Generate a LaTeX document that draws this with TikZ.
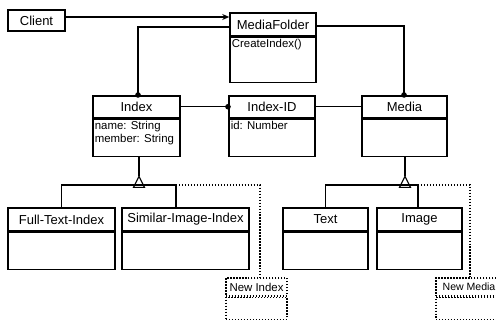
\documentclass[tikz,border=0pt]{standalone}
\usepackage{fontspec}
\setmainfont{Liberation Sans}
\usetikzlibrary{arrows.meta,positioning}
\tikzset{
  uml head/.style={draw, line width=0.9pt, inner sep=1pt, font=\fontsize{7.4}{8}\selectfont},
  uml body/.style={draw, line width=0.9pt, inner sep=0pt, anchor=north},
  uml attr/.style={anchor=north west, inner sep=1.3pt, align=left, font=\fontsize{6.5}{7.6}\selectfont},
  uml future/.style={line width=0.7pt, densely dotted},
  uml link/.style={line width=0.6pt},
  uml owns/.style={uml link, -{Circle[length=1.1mm]}, shorten >=-0.5mm},
}

\begin{document}
\begin{tikzpicture}[x=0.02cm, y=-0.02cm]
  \path[use as bounding box, clip] (0,0) rectangle (496,320);

  % Top: client and folder
  \node[uml head, minimum width=1.14cm, minimum height=0.42cm] (client) at (36.5,20.5) {Client};
  \node[uml head, minimum width=1.72cm, minimum height=0.46cm] (folder) at (273,24.5) {MediaFolder};
  \node[uml body, minimum width=1.72cm, minimum height=0.9cm] (folder-b) at (folder.south) {};
  \node[uml attr] at (folder-b.north west) {CreateIndex()};

  % Middle row
  \node[uml head, minimum width=1.74cm, minimum height=0.43cm] (index) at (136.5,106.75) {Index};
  \node[uml body, minimum width=1.74cm, minimum height=0.75cm] (index-b) at (index.south) {};
  \node[uml attr] at (index-b.north west) {name: String\\member: String};

  \node[uml head, minimum width=1.72cm, minimum height=0.43cm] (indexid) at (272,106.75) {Index-ID};
  \node[uml body, minimum width=1.72cm, minimum height=0.75cm] (indexid-b) at (indexid.south) {};
  \node[uml attr] at (indexid-b.north west) {id: Number};

  \node[uml head, minimum width=1.70cm, minimum height=0.43cm] (media) at (404.5,106.75) {Media};
  \node[uml body, minimum width=1.70cm, minimum height=0.75cm] (media-b) at (media.south) {};

  % Bottom row: subclasses
  \node[uml head, minimum width=2.14cm, minimum height=0.46cm] (fulltext) at (61.5,219.5) {Full-Text-Index};
  \node[uml body, minimum width=2.14cm, minimum height=0.74cm] (fulltext-b) at (fulltext.south) {};
  \node[uml head, minimum width=2.54cm, minimum height=0.46cm] (similar) at (185.5,219.5) {Similar-Image-Index};
  \node[uml body, minimum width=2.54cm, minimum height=0.74cm] (similar-b) at (similar.south) {};
  \node[uml head, minimum width=1.70cm, minimum height=0.46cm] (text) at (325.5,219.5) {Text};
  \node[uml body, minimum width=1.70cm, minimum height=0.74cm] (text-b) at (text.south) {};
  \node[uml head, minimum width=1.70cm, minimum height=0.46cm] (image) at (419.5,219.5) {Image};
  \node[uml body, minimum width=1.70cm, minimum height=0.74cm] (image-b) at (image.south) {};

  % Placeholders for later extensions
  \node[uml head, uml future, minimum width=1.22cm, minimum height=0.36cm, font=\fontsize{6.5}{7.6}\selectfont] (newindex) at (256.5,287) {New Index};
  \node[uml body, uml future, minimum width=1.22cm, minimum height=0.44cm] (newindex-b) at (newindex.south) {};
  \node[uml head, uml future, minimum width=1.32cm, minimum height=0.36cm, font=\fontsize{6}{7}\selectfont] (newmedia) at (469,287) {New Media};
  \node[uml body, uml future, minimum width=1.32cm, minimum height=0.44cm] (newmedia-b) at (newmedia.south) {};

  % Associations
  \draw[uml link, -{Stealth[length=1.4mm, width=1.2mm]}] (client.east |- 0,17) -- (folder.west |- 0,17);
  \draw[uml owns] (folder.west |- 0,27) -| (index.north -| 138,0);
  \draw[uml owns] (folder.east |- 0,26) -| (media.north -| 404,0);
  \draw[uml owns] (index.east) -- (indexid.west);
  \draw[uml link] (indexid.east) -- (media.west);

  % Generalization of Index
  \draw[uml link] (index-b.south -| 139,0) -- ++(0,19) coordinate (index-apex);
  \draw[uml link, fill=white] (index-apex) -- ++(5.5,11) -- ++(-11,0) -- cycle;
  \draw[uml link] (fulltext.north) |- (139,185) -| (similar.north -| 176,0);
  \draw[uml future] (176,185) -| (newindex.north -| 260,0);

  % Generalization of Media
  \draw[uml link] (media-b.south -| 405,0) -- ++(0,19) coordinate (media-apex);
  \draw[uml link, fill=white] (media-apex) -- ++(5.5,11) -- ++(-11,0) -- cycle;
  \draw[uml link] (text.north) |- (405,185) -| (image.north -| 418,0);
  \draw[uml future] (418,185) -| (newmedia.north -| 470,0);
\end{tikzpicture}
\end{document}
